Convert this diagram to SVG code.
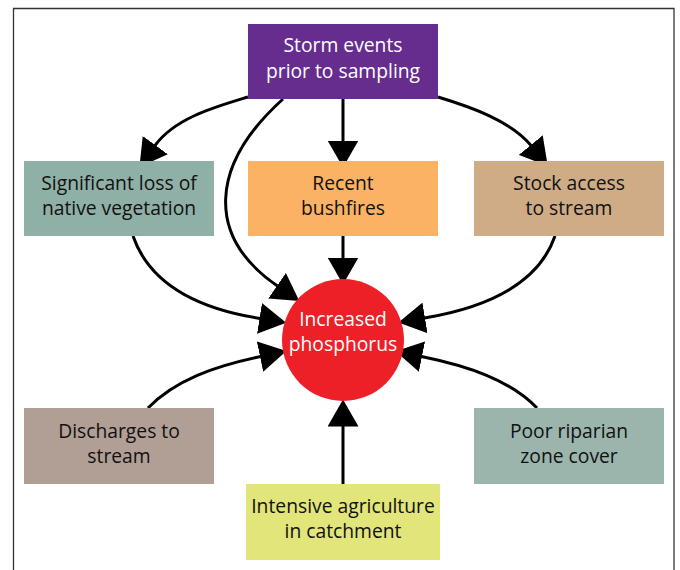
<svg xmlns="http://www.w3.org/2000/svg" width="680" height="570" viewBox="0 0 680 570">
<style>
.lbl{font-family:"Open Sans","Noto Sans","Liberation Sans",sans-serif;font-size:19.3px;text-anchor:middle;fill:#111}
.wht{fill:#fff}
.con{fill:none;stroke:#000;stroke-width:3}
</style>
<defs>
<marker id="ah" viewBox="0 0 27 31" refX="0.5" refY="15.5" markerWidth="27" markerHeight="31" markerUnits="userSpaceOnUse" orient="auto">
<path d="M0,0 L27,15.5 L0,31 z" fill="#000"/>
</marker>
</defs>
<rect width="680" height="570" fill="#fff"/>
<path d="M13.5,575 L13.5,8.5 L674,8.5 L674,575" fill="none" stroke="#333" stroke-width="1.3"/>
<g id="connectors">
<path class="con" marker-end="url(#ah)" d="M248,97 C215,107 175,118 155,145.5"/>
<path class="con" marker-end="url(#ah)" d="M283,99 C210,165 205,236 277.5,286"/>
<path class="con" marker-end="url(#ah)" d="M343,99 L343,141"/>
<path class="con" marker-end="url(#ah)" d="M438,97 C471,107 511,121 531,145.5"/>
<path class="con" marker-end="url(#ah)" d="M343,236 L343,258"/>
<path class="con" marker-end="url(#ah)" d="M133,236 C150,285 200,309 260,318.5"/>
<path class="con" marker-end="url(#ah)" d="M555,236 C538,285 484,308 424.5,318"/>
<path class="con" marker-end="url(#ah)" d="M148,408 C175,380 215,366 260.5,356.5"/>
<path class="con" marker-end="url(#ah)" d="M537,408 C510,380 468,366 421.5,356.5"/>
<path class="con" marker-end="url(#ah)" d="M343,484 L343,426"/>
</g>
<g id="storm">
<rect x="248" y="24" width="190" height="75" fill="#662d8f"/>
<text class="lbl wht" x="343" y="52">Storm events</text>
<text class="lbl wht" x="343" y="78">prior to sampling</text>
</g>
<g id="vegetation">
<rect x="24" y="161" width="190" height="75" fill="#8fb0a6"/>
<text class="lbl" x="119" y="190">Significant loss of</text>
<text class="lbl" x="119" y="215">native vegetation</text>
</g>
<g id="bushfires">
<rect x="248" y="161" width="190" height="75" fill="#fbb264"/>
<text class="lbl" x="343" y="190">Recent</text>
<text class="lbl" x="343" y="215">bushfires</text>
</g>
<g id="stock">
<rect x="474" y="161" width="190" height="75" fill="#cfab86"/>
<text class="lbl" x="569" y="190">Stock access</text>
<text class="lbl" x="569" y="215">to stream</text>
</g>
<g id="phosphorus">
<circle cx="343" cy="340" r="61" fill="#ed2027"/>
<text class="lbl wht" x="343" y="326">Increased</text>
<text class="lbl wht" x="343" y="351">phosphorus</text>
</g>
<g id="discharges">
<rect x="24" y="408" width="190" height="76" fill="#b19f96"/>
<text class="lbl" x="119" y="438">Discharges to</text>
<text class="lbl" x="119" y="463">stream</text>
</g>
<g id="riparian">
<rect x="474" y="408" width="190" height="76" fill="#9bb5ad"/>
<text class="lbl" x="569" y="438">Poor riparian</text>
<text class="lbl" x="569" y="463">zone cover</text>
</g>
<g id="agriculture">
<rect x="246" y="484" width="194" height="76" fill="#e1e57a"/>
<text class="lbl" x="343" y="513">Intensive agriculture</text>
<text class="lbl" x="343" y="538">in catchment</text>
</g>
</svg>
